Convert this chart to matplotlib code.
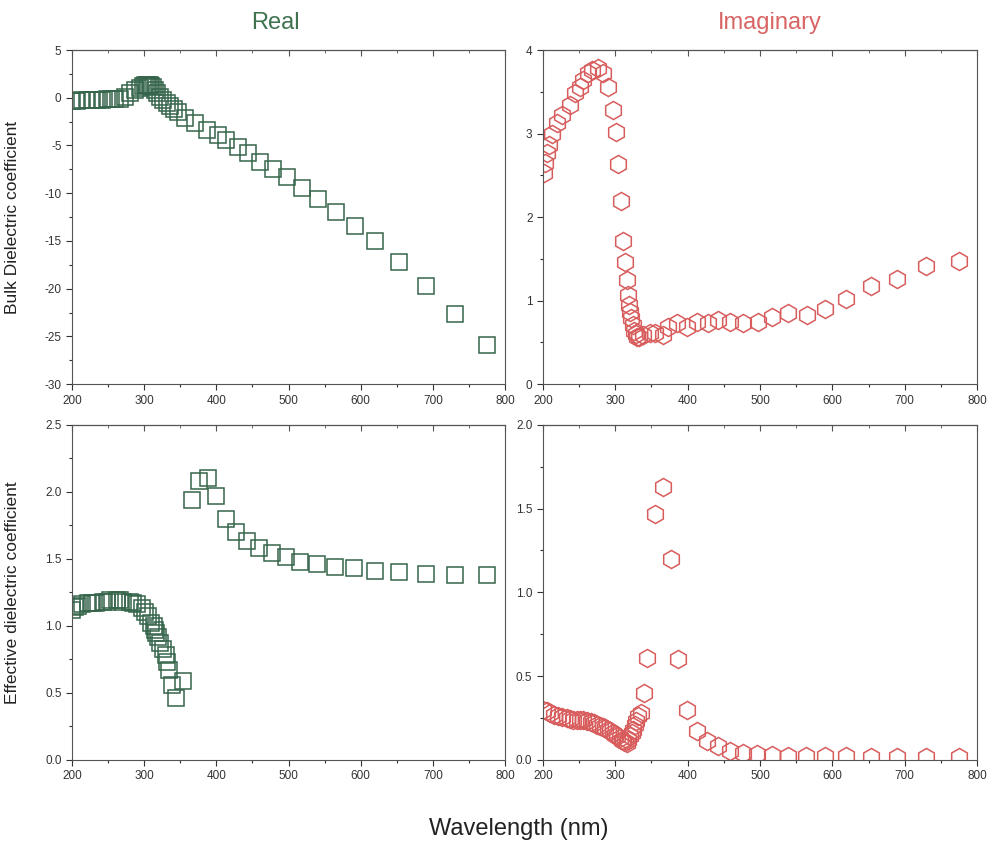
import matplotlib.pyplot as plt
from matplotlib.ticker import MultipleLocator

plt.rcParams['font.family'] = ['Liberation Sans', 'DejaVu Sans']
plt.rcParams['axes.unicode_minus'] = False

green = '#35654a'
red = '#d85c5c'

# bulk, real part
bulk_re_wl = [200, 207, 214, 221, 228, 235, 242, 248, 254, 260, 266, 273, 280, 287, 294, 298,
              301, 304, 306, 308, 310, 312, 315, 318, 322, 326, 331, 336, 341, 347, 357, 370,
              387, 402, 413, 430, 444, 460, 478, 498, 519, 541, 566, 592, 620, 653, 690, 730, 775]
bulk_re = [-0.3, -0.3, -0.28, -0.25, -0.25, -0.22, -0.2, -0.18, -0.15, -0.12, -0.1, 0.1, 0.5, 0.8, 1.0, 1.2,
           1.3, 1.35, 1.35, 1.3, 1.2, 1.1, 0.8, 0.5, 0.1, -0.2, -0.55, -0.9, -1.2, -1.46, -2.1, -2.6,
           -3.38, -3.9, -4.43, -5.16, -5.8, -6.7, -7.5, -8.3, -9.5, -10.6, -12.0, -13.4, -15.0, -17.2,
           -19.7, -22.6, -25.9]

# bulk, imaginary part
bulk_im_wl = [201, 203, 205, 208, 213, 220, 227, 237, 245, 251, 256, 262, 268, 276, 283, 290,
              297, 301, 304, 308, 311, 313, 316, 318, 319, 320, 322, 324, 326, 328, 330, 333, 338,
              348, 355, 366, 373, 385, 399, 413, 428, 442, 459, 477, 497, 517, 539, 565, 590, 619,
              653, 690, 730, 775]
bulk_im = [2.53, 2.65, 2.77, 2.86, 3.0, 3.13, 3.22, 3.34, 3.48, 3.56, 3.64, 3.72, 3.76, 3.78, 3.72, 3.56,
           3.28, 3.02, 2.63, 2.19, 1.71, 1.46, 1.25, 1.07, 0.95, 0.86, 0.79, 0.71, 0.64, 0.6, 0.57, 0.57, 0.59,
           0.61, 0.61, 0.59, 0.68, 0.73, 0.68, 0.74, 0.73, 0.77, 0.74, 0.73, 0.74, 0.8, 0.85, 0.83, 0.9, 1.02,
           1.17, 1.26, 1.41, 1.47]

# effective, real part
eff_re_wl = [200, 204, 209, 214, 222, 228, 234, 243, 248, 253, 262, 266, 271, 280, 285, 290, 297,
             301, 305, 310, 313, 315, 317, 319, 322, 326, 330, 332, 335, 338, 344, 354,
             366, 376, 388, 400, 413, 427, 443, 459, 477, 497, 516, 539, 564, 591, 620, 653, 690, 730, 775]
eff_re = [1.12, 1.14, 1.15, 1.16, 1.17, 1.17, 1.17, 1.18, 1.18, 1.19, 1.19, 1.19, 1.18, 1.18, 1.17, 1.16, 1.13,
          1.1, 1.07, 1.02, 1.0, 0.97, 0.95, 0.92, 0.87, 0.83, 0.78, 0.73, 0.67, 0.56, 0.46, 0.59,
          1.94, 2.08, 2.1, 1.97, 1.8, 1.7, 1.63, 1.58, 1.54, 1.51, 1.48, 1.46, 1.44, 1.43, 1.41, 1.4,
          1.39, 1.38, 1.38]

# effective, imaginary part
eff_im_wl = [200, 205, 210, 216, 221, 227, 233, 238, 242, 247, 251, 256, 261, 266, 270, 275, 279, 283,
             286, 290, 293, 297, 300, 303, 306, 309, 311, 313, 316, 318, 321, 323, 325, 327, 329, 331,
             335, 340, 344, 355, 366, 377, 387, 399, 413, 427, 442, 459, 477, 496, 517, 539, 564, 590,
             619, 653, 690, 730, 775]
eff_im = [0.3, 0.29, 0.28, 0.27, 0.26, 0.255, 0.25, 0.245, 0.24, 0.24, 0.24, 0.235, 0.23, 0.225, 0.22, 0.21,
          0.2, 0.195, 0.19, 0.18, 0.17, 0.16, 0.15, 0.14, 0.13, 0.12, 0.11, 0.105, 0.1, 0.12, 0.14, 0.16,
          0.18, 0.21, 0.23, 0.26, 0.28, 0.40, 0.61, 1.47, 1.63, 1.2, 0.6, 0.3, 0.17, 0.11, 0.08, 0.05,
          0.04, 0.035, 0.03, 0.025, 0.02, 0.02, 0.02, 0.015, 0.015, 0.015, 0.015]

fig = plt.figure(figsize=(9.98, 8.48), dpi=100)
ax1 = fig.add_axes([0.0721, 0.547, 0.434, 0.394])
ax2 = fig.add_axes([0.544, 0.547, 0.435, 0.394])
ax3 = fig.add_axes([0.0721, 0.104, 0.434, 0.395])
ax4 = fig.add_axes([0.544, 0.104, 0.435, 0.395])

ax1.plot(bulk_re_wl, bulk_re, 's', ms=11, mfc='none', mec=green, mew=1.1)
ax2.plot(bulk_im_wl, bulk_im, 'h', ms=13, mfc='none', mec=red, mew=1.1)
ax3.plot(eff_re_wl, eff_re, 's', ms=11, mfc='none', mec=green, mew=1.1)
ax4.plot(eff_im_wl, eff_im, 'h', ms=13, mfc='none', mec=red, mew=1.1)

ax1.set_ylim(-30, 5)
ax1.yaxis.set_major_locator(MultipleLocator(5))
ax1.yaxis.set_minor_locator(MultipleLocator(2.5))
ax2.set_ylim(0, 4)
ax2.yaxis.set_major_locator(MultipleLocator(1))
ax2.yaxis.set_minor_locator(MultipleLocator(0.5))
ax3.set_ylim(0, 2.5)
ax3.yaxis.set_major_locator(MultipleLocator(0.5))
ax3.yaxis.set_minor_locator(MultipleLocator(0.25))
ax3.yaxis.set_major_formatter('{x:.1f}')
ax4.set_ylim(0, 2.0)
ax4.yaxis.set_major_locator(MultipleLocator(0.5))
ax4.yaxis.set_minor_locator(MultipleLocator(0.25))
ax4.yaxis.set_major_formatter('{x:.1f}')

for ax in [ax1, ax2, ax3, ax4]:
    ax.set_xlim(200, 800)
    ax.xaxis.set_major_locator(MultipleLocator(100))
    ax.xaxis.set_minor_locator(MultipleLocator(50))
    ax.tick_params(which='both', direction='out', labelsize=8.5, colors='#333333', width=0.8)
    ax.tick_params(which='major', length=4)
    ax.tick_params(which='minor', length=2.5)
    for s in ax.spines.values():
        s.set_color('#555555')
        s.set_linewidth(0.8)
    sec = ax.secondary_xaxis('top')
    sec.xaxis.set_major_locator(MultipleLocator(100))
    sec.xaxis.set_minor_locator(MultipleLocator(50))
    sec.tick_params(which='both', direction='in', labeltop=False, colors='#555555')
    sec.tick_params(which='major', length=4)
    sec.tick_params(which='minor', length=2.5)

ax1.set_ylabel('Bulk Dielectric coefficient', fontsize=12.5, color='#222222')
ax3.set_ylabel('Effective dielectric coefficient', fontsize=12.5, color='#222222')
ax1.yaxis.set_label_coords(-0.12, 0.5)
ax3.yaxis.set_label_coords(-0.12, 0.5)

fig.text(0.276, 0.973, 'Real', ha='center', va='center', fontsize=17, color='#3f7350')
fig.text(0.771, 0.973, 'Imaginary', ha='center', va='center', fontsize=17, color='#d86464')
fig.text(0.52, 0.022, 'Wavelength (nm)', ha='center', va='center', fontsize=17, color='#222222')

fig.savefig('out.png', dpi=100)
